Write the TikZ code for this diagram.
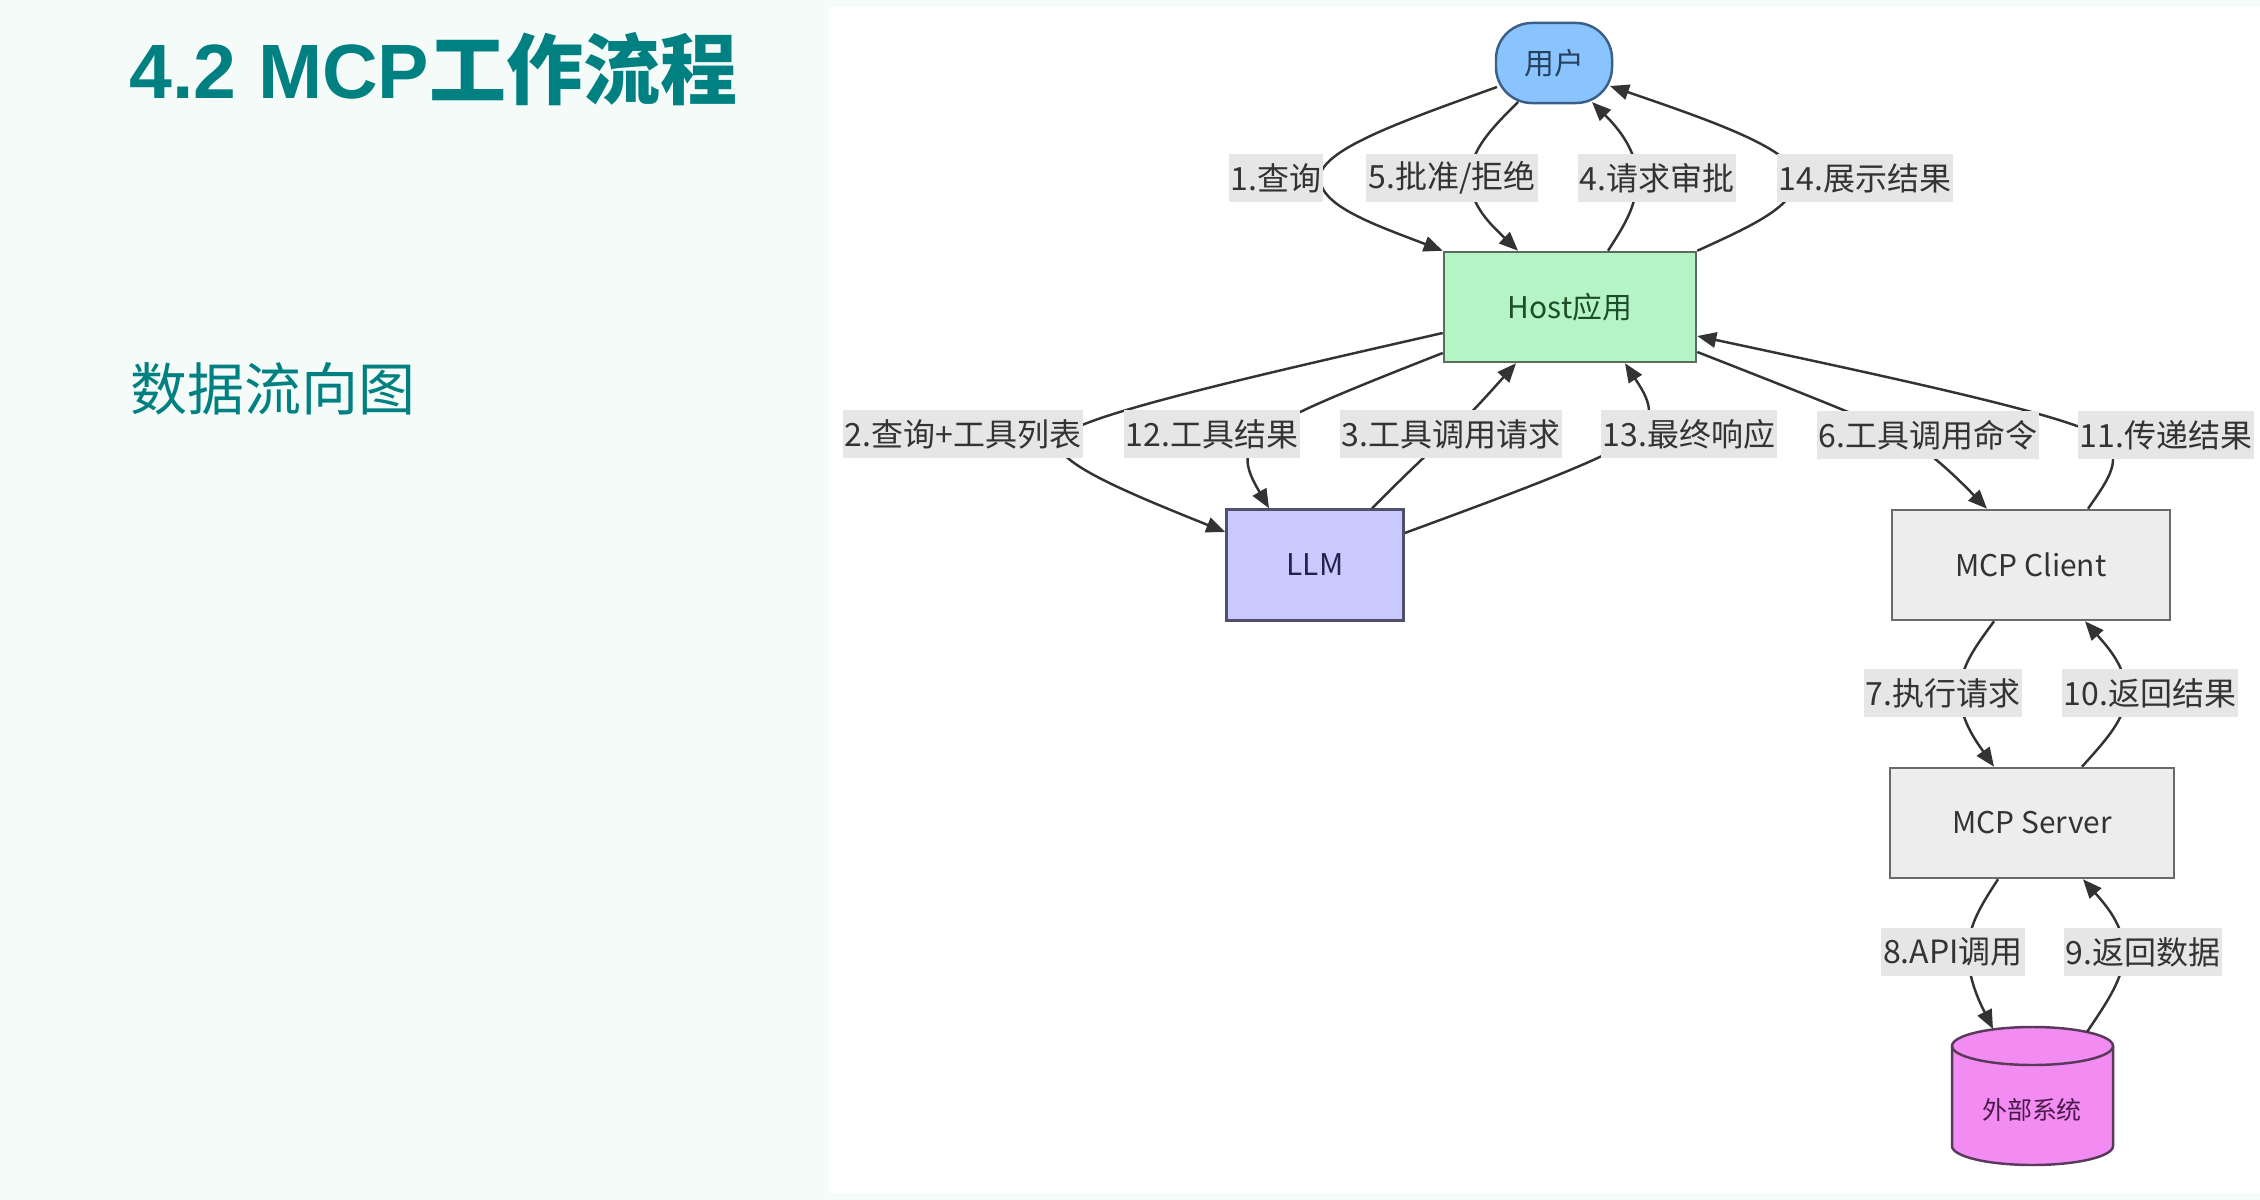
\documentclass[tikz,border=0pt]{standalone}
\usepackage{fontspec}
\setmainfont{Noto Sans CJK SC}
\newfontfamily\latb{Liberation Sans}
\usetikzlibrary{arrows.meta,calc}
\definecolor{bgmint}{HTML}{F4FBF9}
\definecolor{teal}{HTML}{008080}
\definecolor{labg}{HTML}{E6E6E6}
\definecolor{labtext}{HTML}{333333}
\definecolor{edgec}{HTML}{333333}
\definecolor{userfill}{HTML}{8AC4FF}
\definecolor{userdraw}{HTML}{3B5F86}
\definecolor{usertext}{HTML}{26415E}
\definecolor{hostfill}{HTML}{B5F5C5}
\definecolor{hostdraw}{HTML}{5B6B5E}
\definecolor{hosttext}{HTML}{1E4D2B}
\definecolor{llmfill}{HTML}{C9C9FF}
\definecolor{llmdraw}{HTML}{50506A}
\definecolor{llmtext}{HTML}{22224A}
\definecolor{mcpfill}{HTML}{EDEDED}
\definecolor{mcpdraw}{HTML}{6A6A6A}
\definecolor{dbfill}{HTML}{F28CF2}
\definecolor{dbdraw}{HTML}{5A3A5A}
\definecolor{dbtext}{HTML}{4A1A4A}
\tikzset{
  edge/.style={draw=edgec, line width=0.7pt, -{Triangle[length=5.4pt,width=4.4pt]}},
  lab/.style={fill=labg, text=labtext, font=\fontsize{9.1pt}{10pt}\selectfont, inner xsep=0.6pt, inner ysep=0pt, minimum height=0.47cm},
  box/.style={draw, line width=0.7pt, inner sep=0pt, font=\fontsize{8.5pt}{10pt}\selectfont},
}
\begin{document}
\begin{tikzpicture}[x=0.01cm,y=-0.01cm]
\useasboundingbox (0,0) rectangle (2260,1200);
\fill[bgmint] (0,0) rectangle (2260,1200);
\fill[white] (829,7) rectangle (2260,1193);
% titles
\node[anchor=base west, inner sep=0pt, text=teal, font=\fontsize{21.9pt}{24pt}\selectfont] (title) at (129,98) {{\latb\bfseries 4.2 MCP}{\bfseries 工作流程}};
\node[anchor=base west, inner sep=0pt, text=teal, font=\fontsize{16.2pt}{18pt}\selectfont] (subtitle) at (130,410) {数据流向图};
% cylinder
\filldraw[fill=dbfill, draw=dbdraw, line width=0.7pt]
  (1952,1046) -- (1952,1146) .. controls (1952,1156.5) and (1988,1165) .. (2032.5,1165)
  .. controls (2077,1165) and (2113,1156.5) .. (2113,1146) -- (2113,1046)
  .. controls (2113,1035.5) and (2077,1027) .. (2032.5,1027)
  .. controls (1988,1027) and (1952,1035.5) .. (1952,1046) -- cycle;
\draw[draw=dbdraw, line width=0.7pt] (1952,1046) .. controls (1952,1056.5) and (1988,1065) .. (2032.5,1065)
  .. controls (2077,1065) and (2113,1056.5) .. (2113,1046);
\node[inner sep=0pt, text=dbtext, font=\fontsize{7.1pt}{8pt}\selectfont] (db) at (2032,1110) {外部系统};
% nodes
\node[box, fill=userfill, draw=userdraw, text=usertext, rounded corners=0.36cm, minimum width=1.16cm, minimum height=0.8cm] (u) at (1554,63) {用户};
\node[box, fill=hostfill, draw=hostdraw, text=hosttext, minimum width=2.52cm, minimum height=1.1cm] (h) at (1570,307) {Host应用};
\node[box, fill=llmfill, draw=llmdraw, text=llmtext, minimum width=1.77cm, minimum height=1.11cm] (l) at (1315,565) {LLM};
\node[box, fill=mcpfill, draw=mcpdraw, text=labtext, minimum width=2.78cm, minimum height=1.1cm] (c) at (2031,565) {MCP Client};
\node[box, fill=mcpfill, draw=mcpdraw, text=labtext, minimum width=2.84cm, minimum height=1.1cm] (s) at (2032,823) {MCP Server};
% pass points
\coordinate (m1) at (1320,178);
\coordinate (m5) at (1470,178);
\coordinate (m4) at (1637,178);
\coordinate (m14) at (1796,178);
\coordinate (m2) at (1062,436);
\coordinate (m12) at (1260,435);
\coordinate (m3) at (1448,435);
\coordinate (m13) at (1638,435);
\coordinate (m6) at (1900,435);
\coordinate (m11) at (2102,438);
\coordinate (m7) at (1960,693);
\coordinate (m10) at (2126,693);
\coordinate (m8) at (1968,952);
\coordinate (m9) at (2124,952);
% edges
\draw[edge] ($(u)+(-57,24)$) .. controls +(-97,35) and +(0,-28) .. (m1) .. controls +(0,28) and +(-68,-26) .. (h.north west);
\draw[edge] ($(u)+(-36,39)$) .. controls +(-26,26) and +(0,-28) .. (m5) .. controls +(0,28) and +(-26,-25) .. ($(h.north)+(-52,0)$);
\draw[edge] ($(h.north)+(38,0)$) .. controls +(16,-25) and +(0,28) .. (m4) .. controls +(0,-28) and +(25,25) .. ($(u)+(38,39)$);
\draw[edge] (h.north east) .. controls +(55,-25) and +(0,28) .. (m14) .. controls +(0,-28) and +(102,35) .. ($(u)+(56,23)$);
\draw[edge] ($(h.west)+(0,26)$) .. controls +(-198,45) and +(22,-21) .. (m2) .. controls +(-22,21) and +(-102,-41) .. ($(l.west)+(0,-33)$);
\draw[edge] ($(h.west)+(0,46)$) .. controls +(-89,35) and +(23,-19) .. (m12) .. controls +(-23,19) and +(-18,-31) .. ($(l.north)+(-46,0)$);
\draw[edge] ($(l.north)+(57,0)$) .. controls +(30,-30) and +(-22,20) .. (m3) .. controls +(22,-20) and +(-26,29) .. ($(h.south)+(-54,0)$);
\draw[edge] ($(l.east)+(0,-32)$) .. controls +(117,-43) and +(-22,20) .. (m13) .. controls +(22,-20) and +(19,29) .. ($(h.south)+(55,0)$);
\draw[edge] ($(h.east)+(0,45)$) .. controls +(97,38) and +(-27,-14) .. (m6) .. controls +(27,14) and +(-33,-34) .. ($(c.north)+(-44,0)$);
\draw[edge] ($(c.north)+(57,0)$) .. controls +(20,-29) and +(23,20) .. (m11) .. controls +(-23,-20) and +(211,45) .. ($(h.east)+(0,29)$);
\draw[edge] ($(c.south)+(-37,0)$) .. controls +(-19,26) and +(0,-26) .. (m7) .. controls +(0,26) and +(-19,-27) .. ($(s.north)+(-38,0)$);
\draw[edge] ($(s.north)+(50,0)$) .. controls +(24,-27) and +(0,26) .. (m10) .. controls +(0,-26) and +(23,26) .. ($(c.south)+(54,0)$);
\draw[edge] ($(s.south)+(-34,0)$) .. controls +(-17,26) and +(0,-26) .. (m8) .. controls +(0,26) and +(-14,-28) .. ($(db)+(-39,-81)$);
\draw[edge] ($(db)+(55,-78)$) .. controls +(20,-30) and +(0,26) .. (m9) .. controls +(0,-26) and +(23,26) .. ($(s.south)+(51,0)$);
% labels
\node[lab] (l1) at (1276,178) {1.查询};
\node[lab] (l5) at (1452,178) {5.批准/拒绝};
\node[lab] (l4) at (1657,178) {4.请求审批};
\node[lab] (l14) at (1865,178) {14.展示结果};
\node[lab] (l2) at (963,434) {2.查询+工具列表};
\node[lab] (l12) at (1212,434) {12.工具结果};
\node[lab] (l3) at (1451,434) {3.工具调用请求};
\node[lab] (l13) at (1689,434) {13.最终响应};
\node[lab] (l6) at (1928,435) {6.工具调用命令};
\node[lab] (l11) at (2166,435) {11.传递结果};
\node[lab] (l7) at (1943,693) {7.执行请求};
\node[lab] (l10) at (2150,693) {10.返回结果};
\node[lab] (l8) at (1953,952) {8.API调用};
\node[lab] (l9) at (2143,952) {9.返回数据};
\end{tikzpicture}
\end{document}
